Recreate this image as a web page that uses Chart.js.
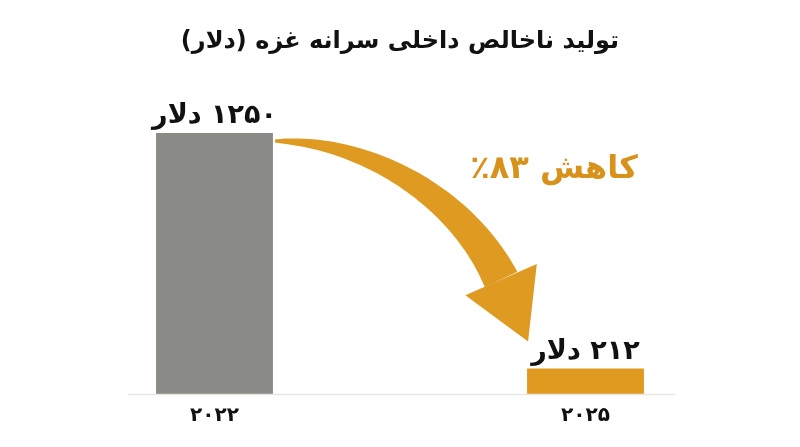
<!DOCTYPE html>
<html lang="fa">
<head>
<meta charset="utf-8">
<script src="https://cdn.jsdelivr.net/npm/chart.js@4.4.1/dist/chart.umd.min.js"></script>
<style>
  html, body { margin: 0; padding: 0; background: #ffffff; }
  #wrap { width: 800px; height: 447px; }
</style>
</head>
<body>
<div id="wrap"><canvas id="gdpChart"></canvas></div>
<script>
const chartTitle = 'تولید ناخالص داخلی سرانه غزه (دلار)';
const years = ['۲۰۲۲', '۲۰۲۵'];
const gdpPerCapita = [1250, 212];
const barColors = ['#8a8a86', '#e09a20'];
const unitLabel = 'دلار';
const dropWord = 'کاهش';

const FONT = '"DejaVu Sans", sans-serif';
const ORANGE = '#df9a22';

function toPersianDigits(n) {
    return String(n).replace(/\d/g, d => '۰۱۲۳۴۵۶۷۸۹'[d]);
}

const dropPct = Math.round((1 - gdpPerCapita[1] / gdpPerCapita[0]) * 100);

const overlay = {
    id: 'overlay',
    afterDatasetsDraw(chart) {
        const ctx = chart.ctx;
        const area = chart.chartArea;
        const bars = chart.getDatasetMeta(0).data;
        const a = bars[0].getProps(['x', 'y', 'width'], true);
        const b = bars[1].getProps(['x', 'y', 'width'], true);
        const aL = a.x - a.width / 2, aR = a.x + a.width / 2;
        const bL = b.x - b.width / 2, bR = b.x + b.width / 2;

        ctx.save();
        // baseline
        ctx.strokeStyle = '#e6e6e6';
        ctx.lineWidth = 1.5;
        ctx.beginPath();
        ctx.moveTo(aL - 28, area.bottom + 0.5);
        ctx.lineTo(bR + 31, area.bottom + 0.5);
        ctx.stroke();

        // title
        ctx.direction = 'rtl';
        ctx.fillStyle = '#111111';
        ctx.textAlign = 'center';
        ctx.textBaseline = 'middle';
        ctx.font = 'bold 24px ' + FONT;
        ctx.fillText(chartTitle, chart.width / 2, 42);

        // value labels
        ctx.font = 'bold 27px ' + FONT;
        ctx.textBaseline = 'alphabetic';
        bars.forEach((bar, i) => {
            ctx.fillText(toPersianDigits(gdpPerCapita[i]) + ' ' + unitLabel, bar.x, bar.y - 10);
        });

        // curved arrow
        const p0 = { x: aR + 2, y: a.y + 8 };
        const tip = { x: bL + 1, y: b.y - 27 };
        const p3 = { x: tip.x - 27, y: tip.y - 62 };
        const p1 = { x: p0.x + 95, y: p0.y };
        const p2 = { x: p3.x - 38, y: p3.y - 80 };
        const bez = t => {
            const u = 1 - t;
            return {
                x: u*u*u*p0.x + 3*u*u*t*p1.x + 3*u*t*t*p2.x + t*t*t*p3.x,
                y: u*u*u*p0.y + 3*u*u*t*p1.y + 3*u*t*t*p2.y + t*t*t*p3.y
            };
        };
        const der = t => {
            const u = 1 - t;
            return {
                x: 3*u*u*(p1.x-p0.x) + 6*u*t*(p2.x-p1.x) + 3*t*t*(p3.x-p2.x),
                y: 3*u*u*(p1.y-p0.y) + 6*u*t*(p2.y-p1.y) + 3*t*t*(p3.y-p2.y)
            };
        };
        const left = [], right = [];
        const N = 60;
        for (let i = 0; i <= N; i++) {
            const t = i / N;
            const p = bez(t), d = der(t);
            const len = Math.hypot(d.x, d.y) || 1;
            const nx = -d.y / len, ny = d.x / len;
            const w = (3 + 33 * Math.pow(t, 0.8)) / 2;
            left.push({ x: p.x + nx * w, y: p.y + ny * w });
            right.push({ x: p.x - nx * w, y: p.y - ny * w });
        }
        ctx.fillStyle = ORANGE;
        ctx.beginPath();
        ctx.moveTo(left[0].x, left[0].y);
        left.forEach(p => ctx.lineTo(p.x, p.y));
        for (let i = right.length - 1; i >= 0; i--) ctx.lineTo(right[i].x, right[i].y);
        ctx.closePath();
        ctx.fill();
        // head
        const dx = tip.x - p3.x, dy = tip.y - p3.y;
        const hl = Math.hypot(dx, dy);
        const hx = -dy / hl * 39, hy = dx / hl * 39;
        ctx.beginPath();
        ctx.moveTo(p3.x + hx, p3.y + hy);
        ctx.lineTo(tip.x, tip.y);
        ctx.lineTo(p3.x - hx, p3.y - hy);
        ctx.closePath();
        ctx.fill();

        // drop text
        ctx.fillStyle = '#d8921c';
        ctx.font = 'bold 32px ' + FONT;
        ctx.textAlign = 'right';
        ctx.textBaseline = 'middle';
        ctx.direction = 'rtl';
        ctx.fillText(dropWord + ' ' + toPersianDigits(dropPct) + '٪', bR - 6, 170);
        ctx.restore();
    }
};

new Chart(document.getElementById('gdpChart'), {
    type: 'bar',
    data: {
        labels: years,
        datasets: [{
            data: gdpPerCapita,
            backgroundColor: barColors,
            borderWidth: 0,
            barPercentage: 0.315,
            categoryPercentage: 1
        }]
    },
    options: {
        responsive: true,
        maintainAspectRatio: false,
        animation: false,
        layout: { padding: { top: 133, left: 29, right: 29, bottom: 9 } },
        plugins: {
            legend: { display: false },
            tooltip: { enabled: false }
        },
        scales: {
            x: {
                grid: { display: false, drawTicks: false },
                border: { display: false },
                ticks: {
                    color: '#111111',
                    padding: 10,
                    font: { family: FONT, size: 20, weight: 'bold' }
                }
            },
            y: {
                display: false,
                min: 100,
                max: 1250
            }
        }
    },
    plugins: [overlay]
});
</script>
</body>
</html>
